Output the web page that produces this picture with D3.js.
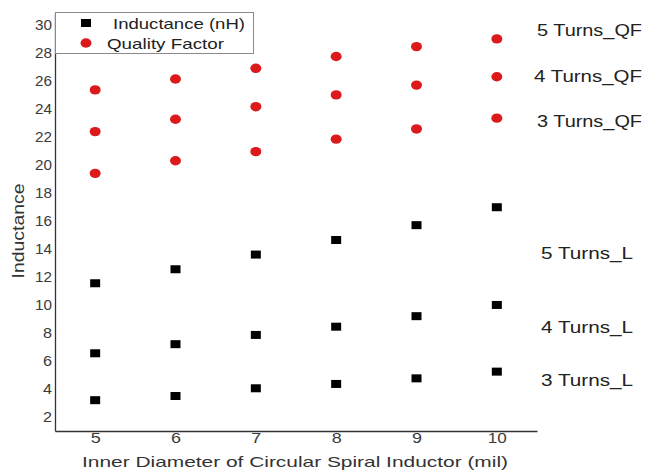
<!DOCTYPE html>
<html>
<head>
<meta charset="utf-8">
<script src="https://cdn.jsdelivr.net/npm/d3@7"></script>
<style>
  body { margin: 0; background: #fff; }
  svg { display: block; font-family: "Liberation Sans", Arial, sans-serif; }
  .axis path { stroke: #333; stroke-width: 1.3; }
  .axis text { fill: #3a3a3a; font-size: 15px; font-family: "Liberation Sans", Arial, sans-serif; }
</style>
</head>
<body>
<div id="chart"></div>
<script>
const width = 648,
  height = 472;

// inner diameter (mil)
const diameters = [5, 6, 7, 8, 9, 10];

// inductance (nH) per number of turns
const turns3L = [3.2, 3.5, 4.05, 4.36, 4.76, 5.24];
const turns4L = [6.55, 7.2, 7.86, 8.45, 9.2, 10.0];
const turns5L = [11.55, 12.55, 13.6, 14.64, 15.7, 16.98];

// quality factor per number of turns
const turns3QF = [19.4, 20.3, 20.95, 21.84, 22.57, 23.34];
const turns4QF = [22.38, 23.26, 24.16, 25.0, 25.7, 26.3];
const turns5QF = [25.36, 26.14, 26.9, 27.74, 28.45, 29.0];

const yTicks = [2, 4, 6, 8, 10, 12, 14, 16, 18, 20, 22, 24, 26, 28, 30];

const squareSeries = [
  { name: "5 Turns_L", values: turns5L },
  { name: "4 Turns_L", values: turns4L },
  { name: "3 Turns_L", values: turns3L },
];
const dotSeries = [
  { name: "5 Turns_QF", values: turns5QF },
  { name: "4 Turns_QF", values: turns4QF },
  { name: "3 Turns_QF", values: turns3QF },
];

// where the series names sit on the right (in data units)
const labelY = {
  "5 Turns_QF": 29.6, "4 Turns_QF": 26.3, "3 Turns_QF": 23.1,
  "5 Turns_L": 13.7, "4 Turns_L": 8.4, "3 Turns_L": 4.65,
};

const red = "#dc1a1c";

const xScale = d3.scaleLinear().domain([4.5, 10.5]).range([55, 537]);
const yScale = d3.scaleLinear().domain([1, 30.85]).range([431, 13]);

const svg = d3.select("#chart").append("svg")
  .attr("width", width)
  .attr("height", height);

// axes (lines + labels, no tick marks)
svg.append("g")
  .attr("class", "axis x-axis")
  .attr("transform", `translate(0,${yScale(1)})`)
  .call(d3.axisBottom(xScale).tickValues(diameters).tickSize(0).tickPadding(1).tickFormat(d3.format("d")))
  .call(g => g.selectAll("text").attr("textLength", d => d >= 10 ? 19 : 10).attr("lengthAdjust", "spacingAndGlyphs"));

svg.append("g")
  .attr("class", "axis y-axis")
  .attr("transform", `translate(${xScale(4.5)},0)`)
  .call(d3.axisLeft(yScale).tickValues(yTicks).tickSize(0).tickPadding(3))
  .call(g => g.selectAll("text").attr("textLength", d => d >= 10 ? 17 : 9).attr("lengthAdjust", "spacingAndGlyphs"));

// axis titles
svg.append("text")
  .attr("x", 82)
  .attr("y", 467)
  .attr("font-size", 15)
  .attr("fill", "#333")
  .attr("textLength", 426)
  .attr("lengthAdjust", "spacingAndGlyphs")
  .text("Inner Diameter of Circular Spiral Inductor (mil)");

svg.append("text")
  .attr("transform", "translate(24,231) rotate(-90)")
  .attr("text-anchor", "middle")
  .attr("font-size", 16)
  .attr("fill", "#333")
  .attr("textLength", 95)
  .attr("lengthAdjust", "spacingAndGlyphs")
  .text("Inductance");

// inductance squares
const sq = { w: 10, h: 8 };
svg.append("g")
  .selectAll("g")
  .data(squareSeries)
  .join("g")
  .selectAll("rect")
  .data(s => s.values.map((v, i) => ({ x: diameters[i], y: v })))
  .join("rect")
  .attr("x", d => xScale(d.x) - sq.w / 2)
  .attr("y", d => yScale(d.y) - sq.h / 2)
  .attr("width", sq.w)
  .attr("height", sq.h)
  .attr("fill", "#000");

// quality factor dots
svg.append("g")
  .selectAll("g")
  .data(dotSeries)
  .join("g")
  .selectAll("ellipse")
  .data(s => s.values.map((v, i) => ({ x: diameters[i], y: v })))
  .join("ellipse")
  .attr("cx", d => xScale(d.x))
  .attr("cy", d => yScale(d.y))
  .attr("rx", 5.5)
  .attr("ry", 4.7)
  .attr("fill", red);

// series names on the right
svg.append("g")
  .selectAll("text")
  .data(dotSeries.concat(squareSeries))
  .join("text")
  .attr("x", d => d.name.endsWith("QF") ? (d.name[0] === "4" ? 534 : 537) : 541)
  .attr("y", d => yScale(labelY[d.name]))
  .attr("dy", "0.36em")
  .attr("font-size", 16)
  .attr("fill", "#222")
  .attr("textLength", d => d.name.endsWith("QF") ? (d.name[0] === "4" ? 108 : 105) : 92)
  .attr("lengthAdjust", "spacingAndGlyphs")
  .text(d => d.name);

// legend
const legend = svg.append("g").attr("class", "legend");
legend.append("rect")
  .attr("x", 55.5)
  .attr("y", 12.5)
  .attr("width", 198)
  .attr("height", 41)
  .attr("fill", "#fff")
  .attr("stroke", "#8a8a8a")
  .attr("stroke-width", 1);
legend.append("rect")
  .attr("x", 86 - 5)
  .attr("y", 23 - 4)
  .attr("width", 10)
  .attr("height", 8)
  .attr("fill", "#000");
legend.append("ellipse")
  .attr("cx", 86)
  .attr("cy", 43)
  .attr("rx", 5.5)
  .attr("ry", 4.7)
  .attr("fill", red);
legend.append("text")
  .attr("x", 113)
  .attr("y", 29)
  .attr("font-size", 15)
  .attr("fill", "#222")
  .attr("textLength", 132)
  .attr("lengthAdjust", "spacingAndGlyphs")
  .text("Inductance (nH)");
legend.append("text")
  .attr("x", 107)
  .attr("y", 49)
  .attr("font-size", 15)
  .attr("fill", "#222")
  .attr("textLength", 117)
  .attr("lengthAdjust", "spacingAndGlyphs")
  .text("Quality Factor");
</script>
</body>
</html>
